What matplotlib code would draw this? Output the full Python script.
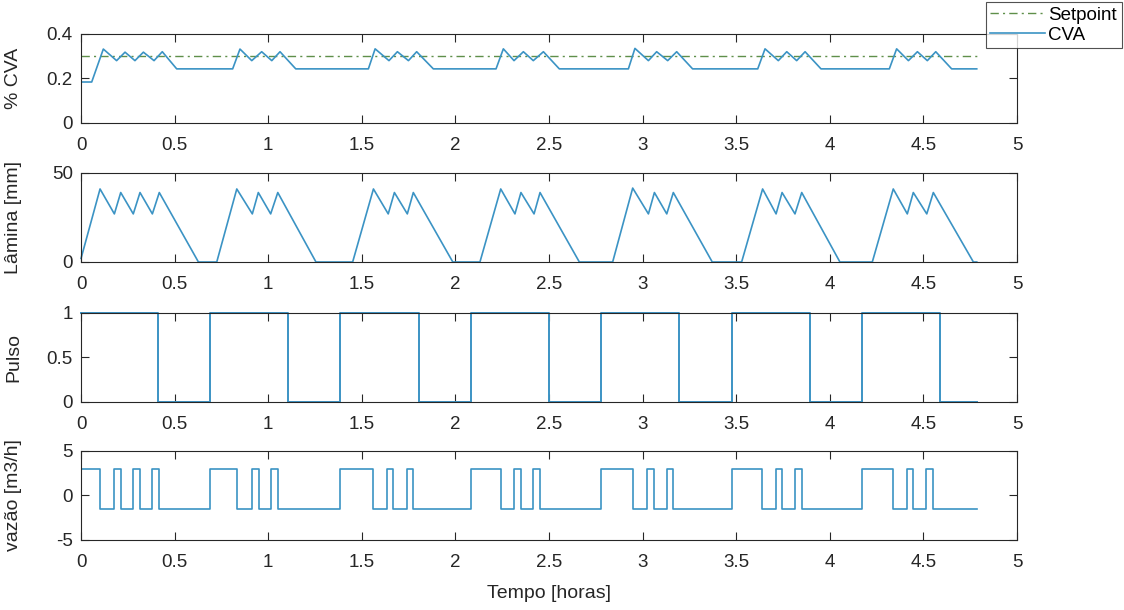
import matplotlib.pyplot as plt
import numpy as np
from matplotlib.ticker import FormatStrFormatter

plt.rcParams['font.family'] = ['Liberation Sans', 'DejaVu Sans']

# tempo [horas] e valores
t_cva = [0, 0.057, 0.119, 0.19, 0.235, 0.288, 0.333, 0.39, 0.434, 0.511,
         0.810, 0.849, 0.912, 0.965, 1.019, 1.063, 1.147,
         1.535, 1.571, 1.645, 1.69, 1.749, 1.793, 1.882,
         2.217, 2.256, 2.313, 2.363, 2.416, 2.47, 2.555,
         2.924, 2.959, 3.031, 3.075, 3.134, 3.182, 3.267,
         3.615, 3.654, 3.725, 3.770, 3.823, 3.868, 3.953,
         4.318, 4.357, 4.420, 4.468, 4.521, 4.566, 4.651, 4.785]
cva = [0.184, 0.184, 0.332, 0.28, 0.318, 0.28, 0.318, 0.28, 0.32, 0.243,
       0.243, 0.332, 0.28, 0.32, 0.28, 0.32, 0.243,
       0.243, 0.333, 0.28, 0.32, 0.28, 0.32, 0.243,
       0.243, 0.333, 0.28, 0.32, 0.28, 0.32, 0.243,
       0.243, 0.335, 0.28, 0.32, 0.28, 0.32, 0.243,
       0.243, 0.333, 0.28, 0.32, 0.28, 0.32, 0.243,
       0.243, 0.333, 0.28, 0.32, 0.28, 0.32, 0.243, 0.243]
t_setpoint = [0, 4.785]
setpoint = [0.3, 0.3]

t_lam = [0, 0.1015, 0.178, 0.212, 0.279, 0.315, 0.381, 0.418, 0.627,
         0.725, 0.832, 0.915, 0.947, 1.013, 1.051, 1.255,
         1.451, 1.562, 1.641, 1.674, 1.743, 1.775, 1.986,
         2.131, 2.242, 2.318, 2.350, 2.420, 2.452, 2.662,
         2.840, 2.947, 3.031, 3.063, 3.129, 3.164, 3.372,
         3.529, 3.641, 3.713, 3.745, 3.814, 3.850, 4.054,
         4.227, 4.339, 4.414, 4.446, 4.518, 4.553, 4.767, 4.785]
lamina = [2, 41, 27, 39, 27, 39, 27, 39, 0,
          0, 41, 27, 39, 27, 39, 0,
          0, 41, 27, 39, 27, 39, 0,
          0, 41, 27, 39, 27, 39, 0,
          0, 41.5, 27, 39, 27, 39, 0,
          0, 41, 27, 39, 27, 39, 0,
          0, 41, 27, 39, 27, 39, 0, 0]

t_pulso = [0, 0.41, 0.69, 1.107, 1.384, 1.804, 2.082, 2.502, 2.778,
           3.196, 3.478, 3.894, 4.172, 4.589, 4.785]
pulso = [1, 0, 1, 0, 1, 0, 1, 0, 1, 0, 1, 0, 1, 0, 0]

t_vazao = [0, 0.1015, 0.176, 0.212, 0.276, 0.315, 0.378, 0.415,
           0.689, 0.832, 0.915, 0.951, 1.013, 1.051,
           1.384, 1.562, 1.636, 1.665, 1.740, 1.772,
           2.082, 2.242, 2.315, 2.352, 2.416, 2.452,
           2.778, 2.950, 3.025, 3.063, 3.129, 3.164,
           3.476, 3.636, 3.711, 3.745, 3.814, 3.850,
           4.172, 4.336, 4.410, 4.445, 4.512, 4.550, 4.785]
vazao = [3, -1.5, 3, -1.5, 3, -1.5, 3, -1.5,
         3, -1.5, 3, -1.5, 3, -1.5,
         3, -1.5, 3, -1.5, 3, -1.5,
         3, -1.5, 3, -1.5, 3, -1.5,
         3, -1.5, 3, -1.5, 3, -1.5,
         3, -1.5, 3, -1.5, 3, -1.5,
         3, -1.5, 3, -1.5, 3, -1.5, -1.5]

azul = '#3b93c4'
verde = '#5f8f4a'
cinza = '#262626'

fig = plt.figure(figsize=(11.24, 6.10), dpi=100)
left, width, h = 0.0721, 0.8327, 0.146
bottoms = [0.7984, 0.5705, 0.341, 0.1148]
axs = [fig.add_axes([left, b, width, h]) for b in bottoms]

l1, = axs[0].plot(t_setpoint, setpoint, color=verde, lw=1.0, label='Setpoint',
                  dashes=(6, 3, 1.5, 3))
l2, = axs[0].plot(t_cva, cva, color=azul, lw=1.2, label='CVA')
axs[1].plot(t_lam, lamina, color=azul, lw=1.2, clip_on=False)
axs[2].step(t_pulso, pulso, where='post', color=azul, lw=1.4, clip_on=False)
axs[3].step(t_vazao, vazao, where='post', color=azul, lw=1.2)

ylims = [(0, 0.4), (0, 50), (0, 1), (-5, 5)]
yticks = [[0, 0.2, 0.4], [0, 50], [0, 0.5, 1], [-5, 0, 5]]
ylabels = ['% CVA', 'Lâmina [mm]', 'Pulso', 'vazão [m3/h]']

for ax, yl, yt, lab in zip(axs, ylims, yticks, ylabels):
    ax.set_xlim(0, 5)
    ax.set_ylim(*yl)
    ax.set_xticks(np.arange(0, 5.01, 0.5))
    ax.set_yticks(yt)
    ax.xaxis.set_major_formatter(FormatStrFormatter('%g'))
    ax.yaxis.set_major_formatter(FormatStrFormatter('%g'))
    ax.tick_params(direction='in', top=True, right=True, length=6, width=0.8,
                   colors=cinza, labelsize=13.5, pad=6)
    ax.tick_params(axis='x', pad=10)
    for s in ax.spines.values():
        s.set_color(cinza)
        s.set_linewidth(0.8)
    ax.set_ylabel(lab, fontsize=14, color=cinza)
    ax.yaxis.set_label_coords(-0.063, 0.5)

axs[3].set_xlabel('Tempo [horas]', fontsize=14, color=cinza, labelpad=10)

leg = fig.legend(handles=[l1, l2], loc='upper right', bbox_to_anchor=(0.998, 0.997),
                 fontsize=13.5, frameon=True, fancybox=False, borderaxespad=0,
                 handlelength=2.9, handletextpad=0.2, borderpad=0.25, labelspacing=0.15)
leg.get_frame().set_edgecolor(cinza)
leg.get_frame().set_linewidth(0.8)

fig.savefig('out.png', dpi=100)
